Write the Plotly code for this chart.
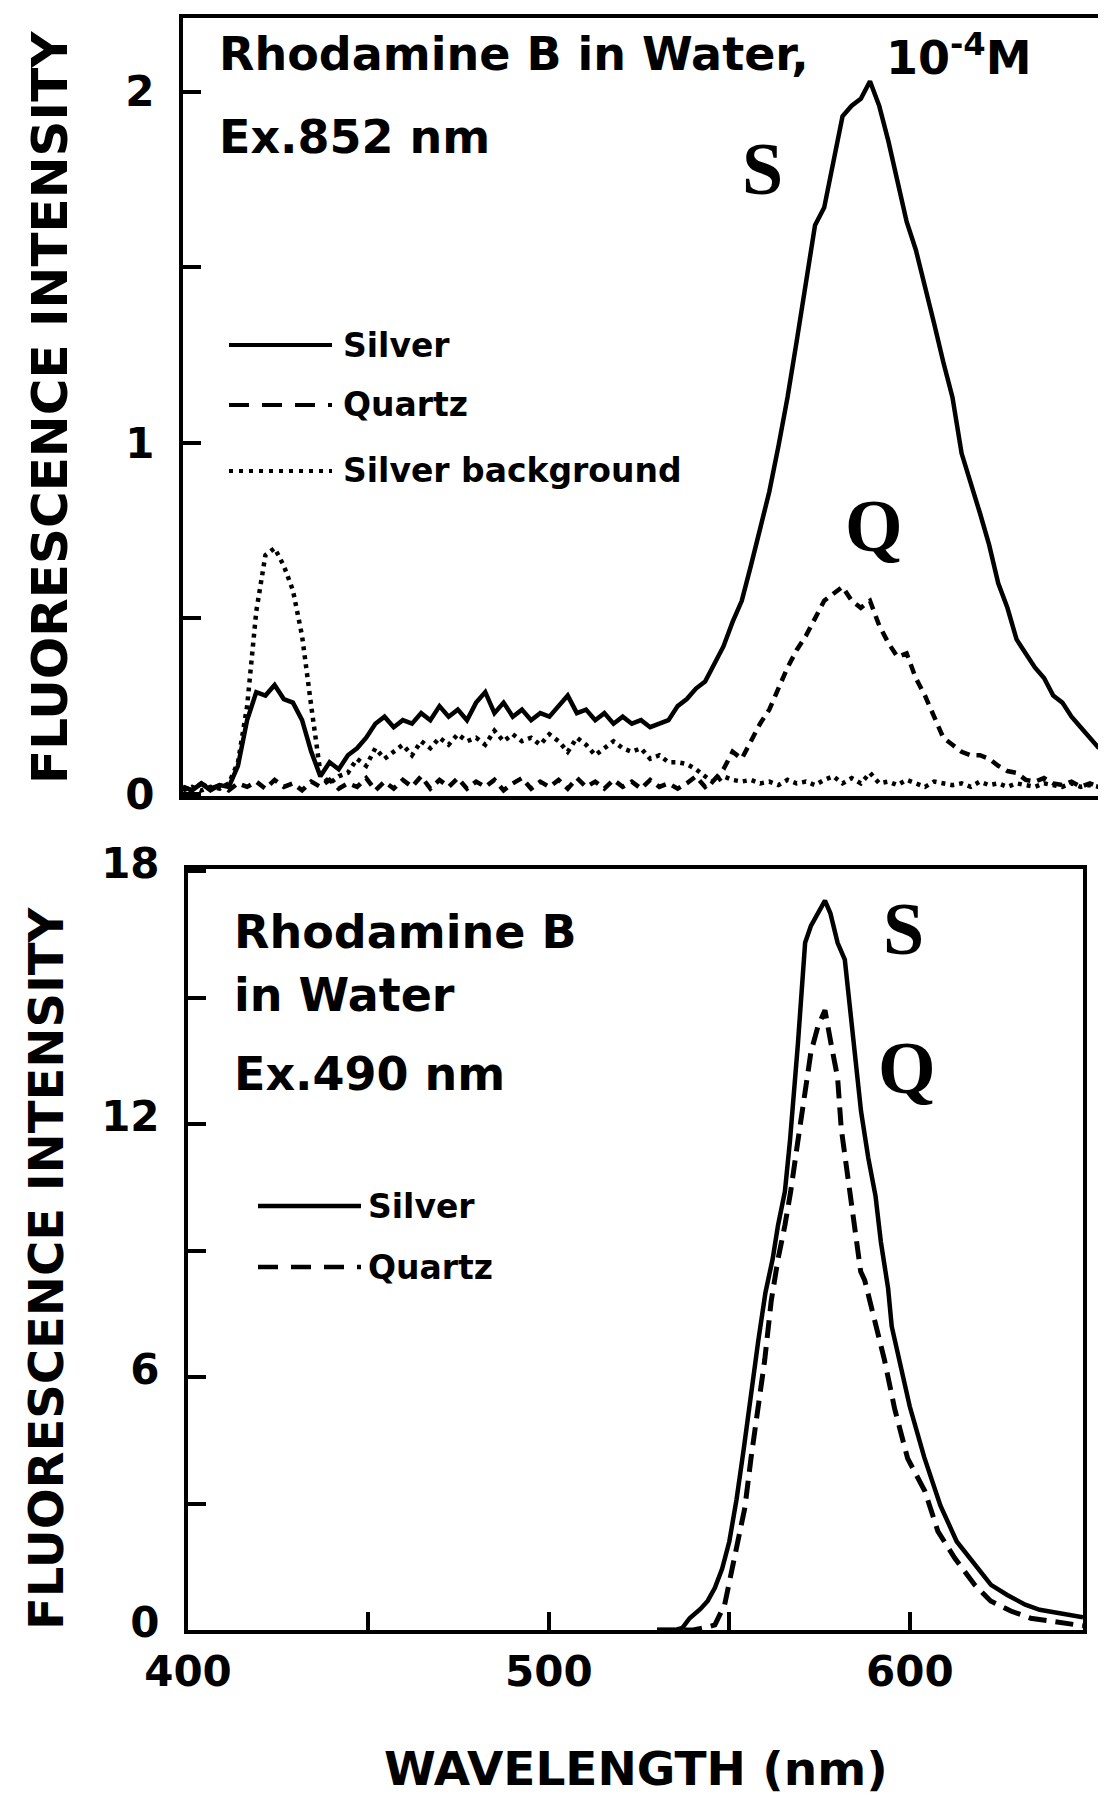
import plotly.graph_objects as go

# ---------------- data: top panel (Ex. 852 nm) ----------------
wl_top = [
    400, 402.5, 405, 407.5, 410, 412.5, 415, 417.5, 420, 422.5,
    425, 427.5, 430, 432.5, 435, 437.5, 440, 442.5, 445, 447.5,
    450, 452.5, 455, 457.5, 460, 462.5, 465, 467.5, 470, 472.5,
    475, 477.5, 480, 482.5, 485, 487.5, 490, 492.5, 495, 497.5,
    500, 502.5, 505, 507.5, 510, 512.5, 515, 517.5, 520, 522.5,
    525, 527.5, 530, 532.5, 535, 537.5, 540, 542.5, 545, 547.5,
    550, 552.5, 555, 557.5, 560, 562.5, 565, 567.5, 570, 572.5,
    575, 577.5, 580, 582.5, 585, 587.5, 590, 592.5, 595, 597.5,
    600, 602.5, 605, 607.5, 610, 612.5, 615, 617.5, 620, 622.5,
    625, 627.5, 630, 632.5, 635, 637.5, 640, 642.5, 645, 647.5,
    650,
]
silver_top = [
    0.02, 0.01, 0.03, 0.01, 0.025, 0.02, 0.08, 0.21, 0.29, 0.28,
    0.31, 0.27, 0.26, 0.21, 0.12, 0.05, 0.09, 0.07, 0.11, 0.13,
    0.16, 0.20, 0.22, 0.19, 0.21, 0.20, 0.23, 0.21, 0.25, 0.22,
    0.24, 0.21, 0.26, 0.29, 0.23, 0.26, 0.22, 0.24, 0.21, 0.23,
    0.22, 0.25, 0.28, 0.23, 0.24, 0.21, 0.23, 0.20, 0.22, 0.20,
    0.21, 0.19, 0.20, 0.21, 0.25, 0.27, 0.30, 0.32, 0.37, 0.42,
    0.49, 0.55, 0.65, 0.76, 0.86, 0.99, 1.13, 1.29, 1.46, 1.62,
    1.67, 1.80, 1.93, 1.96, 1.98, 2.03, 1.96, 1.86, 1.75, 1.63,
    1.55, 1.45, 1.34, 1.23, 1.13, 0.97, 0.89, 0.80, 0.71, 0.60,
    0.53, 0.44, 0.40, 0.36, 0.33, 0.28, 0.26, 0.22, 0.19, 0.16,
    0.13,
]
quartz_top = [
    0.02, 0.01, 0.03, 0.015, 0.025, 0.01, 0.03, 0.02, 0.035, 0.015,
    0.04, 0.02, 0.03, 0.01, 0.035, 0.02, 0.04, 0.015, 0.03, 0.02,
    0.045, 0.01, 0.035, 0.015, 0.04, 0.02, 0.05, 0.015, 0.04, 0.02,
    0.045, 0.015, 0.035, 0.02, 0.04, 0.01, 0.03, 0.045, 0.015, 0.035,
    0.02, 0.04, 0.015, 0.045, 0.02, 0.035, 0.015, 0.04, 0.02, 0.035,
    0.015, 0.04, 0.02, 0.03, 0.015, 0.03, 0.05, 0.02, 0.04, 0.07,
    0.12, 0.10, 0.15, 0.20, 0.24, 0.30, 0.36, 0.41, 0.45, 0.50,
    0.55, 0.57, 0.59, 0.55, 0.53, 0.55, 0.48, 0.43, 0.39, 0.40,
    0.33, 0.28, 0.22, 0.16, 0.14, 0.12, 0.11, 0.11, 0.10, 0.08,
    0.065, 0.06, 0.04, 0.035, 0.045, 0.03, 0.025, 0.035, 0.02, 0.03,
    0.02,
]
background_top = [
    0.01, 0.02, 0.01, 0.02, 0.015, 0.03, 0.09, 0.25, 0.52, 0.68,
    0.70, 0.65, 0.58, 0.45, 0.25, 0.06, 0.03, 0.05, 0.06, 0.10,
    0.08, 0.13, 0.10, 0.12, 0.14, 0.11, 0.15, 0.13, 0.16, 0.14,
    0.17, 0.15, 0.16, 0.14, 0.18, 0.15, 0.17, 0.15, 0.16, 0.14,
    0.17, 0.15, 0.12, 0.16, 0.14, 0.11, 0.13, 0.15, 0.13, 0.12,
    0.13, 0.10, 0.11, 0.09, 0.09, 0.085, 0.07, 0.05, 0.03, 0.05,
    0.04, 0.035, 0.04, 0.03, 0.035, 0.025, 0.04, 0.03, 0.035, 0.025,
    0.04, 0.05, 0.03, 0.045, 0.03, 0.06, 0.03, 0.035, 0.025, 0.04,
    0.03, 0.02, 0.035, 0.03, 0.025, 0.03, 0.02, 0.035, 0.025, 0.03,
    0.02, 0.03, 0.025, 0.02, 0.03, 0.025, 0.02, 0.03, 0.02, 0.025,
    0.02,
]

# ---------------- data: bottom panel (Ex. 490 nm) ----------------
wl_bot_silver = [
    530, 535, 537, 539, 542, 544, 546, 548, 550, 552,
    554, 556, 558, 560, 562, 563.5, 565.4, 566.8, 568, 569,
    570, 571, 572.6, 574.5, 576.5, 578, 580, 582, 583, 585,
    586.5, 588.5, 590.5, 592, 594, 595, 597, 600, 604, 608.5,
    613, 618, 622.5, 627, 632, 636, 641, 646, 648,
]
silver_bot = [
    0, 0, 0.05, 0.28, 0.5, 0.69, 1.0, 1.45, 2.1, 3.1,
    4.3, 5.65, 6.85, 8.0, 8.8, 9.6, 10.4, 11.6, 12.7, 13.9,
    15.1, 16.3, 16.7, 17.0, 17.3, 17.0, 16.3, 15.9, 15.1, 13.5,
    12.3, 11.2, 10.3, 9.2, 8.1, 7.2, 6.4, 5.3, 4.1, 2.95,
    2.1, 1.55, 1.07, 0.83, 0.6, 0.48, 0.4, 0.32, 0.3,
]
wl_bot_quartz = [
    530, 540, 543, 546, 548.7, 550.4, 552.4, 554.3, 556, 558,
    559.8, 561.6, 563.5, 565.4, 567, 569, 571, 572.6, 574.5, 576.5,
    578.2, 580, 581, 582.8, 584.8, 586.4, 587.5, 589.5, 593, 595.8,
    599.4, 604.2, 607.8, 612.5, 618, 622.4, 628, 633.5, 639, 646.5,
    648,
]
quartz_bot = [
    0, 0, 0.05, 0.12, 0.6, 1.3, 2.1, 2.9, 4.07, 5.25,
    6.4, 7.8, 8.8, 9.6, 10.4, 11.6, 12.7, 13.7, 14.3, 14.7,
    13.9, 13.1, 11.9, 10.8, 9.6, 8.5, 8.3, 7.6, 6.4, 5.25,
    4.07, 3.29, 2.34, 1.7, 1.07, 0.69, 0.45, 0.28, 0.21, 0.12,
    0.1,
]

# ---------------- ticks ----------------
top_y_ticks = [0, 1, 2]
top_y_labels = ["0", "1", "2"]
top_y_minor = [0.5, 1.5]
bot_y_ticks = [0, 6, 12, 18]
bot_y_labels = ["0", "6", "12", "18"]
bot_y_minor = [3, 9, 15]
bot_x_ticks = [400, 500, 600]
bot_x_labels = ["400", "500", "600"]
bot_x_minor = [450, 550]

# ---------------- figure ----------------
W, H = 1106, 1796


def px(x):
    return x / W


def py(y):
    return 1 - y / H


SANS = "DejaVu Sans"
SERIF = "Liberation Serif"

fig = go.Figure()

fig.add_trace(go.Scatter(x=wl_top, y=background_top, mode="lines", xaxis="x", yaxis="y",
                         line=dict(color="black", width=4.5, dash="4px,5px")))
fig.add_trace(go.Scatter(x=wl_top, y=quartz_top, mode="lines", xaxis="x", yaxis="y",
                         line=dict(color="black", width=4.5, dash="10px,7px")))
fig.add_trace(go.Scatter(x=wl_top, y=silver_top, mode="lines", xaxis="x", yaxis="y",
                         line=dict(color="black", width=4.5)))

fig.add_trace(go.Scatter(x=wl_bot_quartz, y=quartz_bot, mode="lines", xaxis="x2", yaxis="y2",
                         line=dict(color="black", width=5, dash="18px,9px")))
fig.add_trace(go.Scatter(x=wl_bot_silver, y=silver_bot, mode="lines", xaxis="x2", yaxis="y2",
                         line=dict(color="black", width=4.5)))

tickfont = dict(family=SANS, size=42, color="black", weight="bold")
axis_common = dict(showline=True, linecolor="black", linewidth=4, mirror=True,
                   showgrid=False, zeroline=False, tickcolor="black",
                   tickwidth=4, ticklen=18, tickfont=tickfont, automargin=False)


def minor(vals):
    return dict(tickvals=vals, ticks="inside", ticklen=18, tickwidth=4,
                tickcolor="black", showgrid=False)


fig.update_layout(
    width=W, height=H,
    margin=dict(l=0, r=0, t=0, b=0, pad=0, autoexpand=False),
    paper_bgcolor="white", plot_bgcolor="white",
    showlegend=False,
    xaxis=dict(domain=[px(175), px(1091)], range=[400, 650], anchor="y",
               showticklabels=False, ticks="", **axis_common),
    yaxis=dict(domain=[py(788), py(10)], range=[-0.006, 2.21], anchor="x",
               tickvals=top_y_ticks, ticktext=top_y_labels, ticks="inside",
               minor=minor(top_y_minor), ticklabelstandoff=16, **axis_common),
    xaxis2=dict(domain=[px(180), px(1075)], range=[400, 648], anchor="y2",
                tickvals=bot_x_ticks, ticktext=bot_x_labels, ticks="inside",
                minor=minor(bot_x_minor), ticklabelstandoff=2, **axis_common),
    yaxis2=dict(domain=[py(1622), py(861)], range=[0, 18.05], anchor="x2",
                tickvals=bot_y_ticks, ticktext=bot_y_labels, ticks="inside",
                minor=minor(bot_y_minor), ticklabelstandoff=16,
                ticklabelshift=-8, **axis_common),
)

txt = dict(family=SANS, size=46, color="black", weight="bold")
leg = dict(family=SANS, size=33, color="black", weight="bold")
big = dict(family=SERIF, size=74, color="black", weight="bold")


def note(text, x, y, font, xanchor="left", angle=0):
    fig.add_annotation(text=text, x=px(x), y=py(y), xref="paper", yref="paper",
                       xanchor=xanchor, yanchor="middle", showarrow=False,
                       font=font, textangle=angle)


# top panel texts
note("Rhodamine B in Water,", 209, 46, txt)
note("10<sup>-4</sup>M", 876, 47, txt)
note("Ex.852 nm", 209, 129, txt)
note("S", 754, 161, big, xanchor="center")
note("Q", 866, 518, big, xanchor="center")

# bottom panel texts
note("Rhodamine B", 224, 924, txt)
note("in Water", 224, 987, txt)
note("Ex.490 nm", 224, 1066, txt)
note("S", 895, 921, big, xanchor="center")
note("Q", 899, 1060, big, xanchor="center")

# axis titles
axt = dict(family=SANS, size=50, color="black", weight="bold")
note("FLUORESCENCE INTENSITY", 42, 400, axt, xanchor="center", angle=-90)
note("FLUORESCENCE INTENSITY", 38, 1260, dict(axt, size=48), xanchor="center", angle=-90)
note("WAVELENGTH (nm)", 628, 1760, dict(axt, size=47), xanchor="center")

# legends (drawn as keys)
legend_top = [("Silver", "solid", 337), ("Quartz", "20px,13px", 397), ("Silver background", "4px,6px", 463)]
for label, dash, yy in legend_top:
    fig.add_shape(type="line", xref="paper", yref="paper", x0=px(221), x1=px(324),
                  y0=py(yy), y1=py(yy), line=dict(color="black", width=4, dash=dash))
    note(label, 333, yy, leg)

legend_bot = [("Silver", "solid", 1198), ("Quartz", "20px,13px", 1259)]
for label, dash, yy in legend_bot:
    fig.add_shape(type="line", xref="paper", yref="paper", x0=px(250), x1=px(353),
                  y0=py(yy), y1=py(yy), line=dict(color="black", width=4.5, dash=dash))
    note(label, 358, yy, leg)

fig.write_html("out.html")
